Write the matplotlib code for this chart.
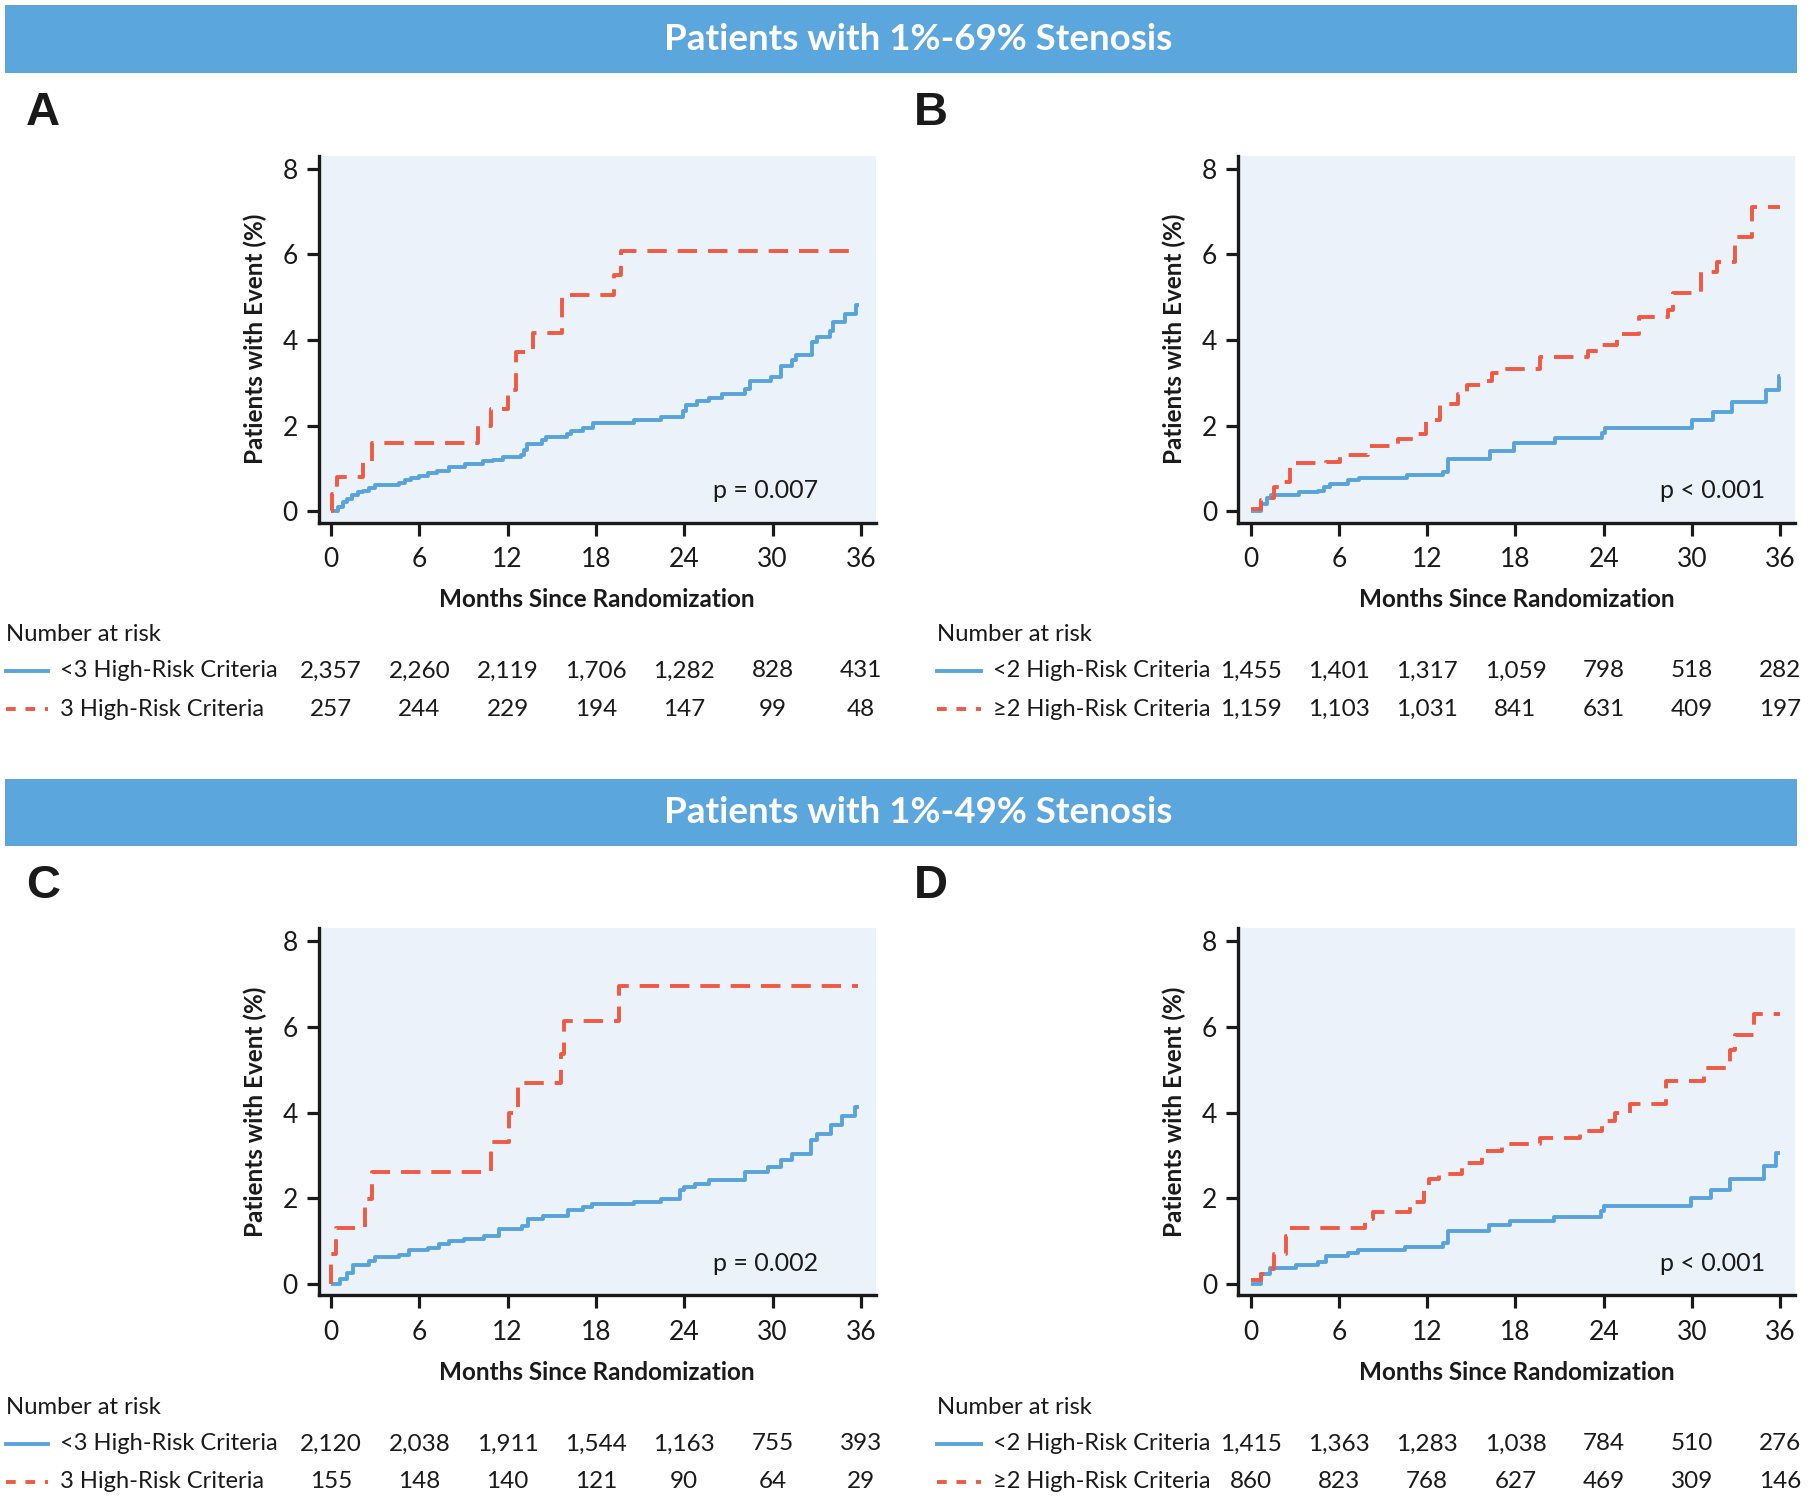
import numpy as np
import matplotlib
matplotlib.use("Agg")
import matplotlib.pyplot as plt
from matplotlib.patches import Rectangle
from matplotlib.lines import Line2D
from matplotlib.transforms import blended_transform_factory

plt.rcParams['font.family'] = ['Lato', 'DejaVu Sans']

# ---------------- data ----------------
months_ticks = [0, 6, 12, 18, 24, 30, 36]

# Panel A (1%-69% stenosis, <3 vs 3 criteria)
A_lo_t = [0, 0.5, 0.8, 1.1, 1.4, 1.8, 2.2, 2.6, 3.0, 4.6, 5.0, 5.4, 6.0, 6.6, 7.2, 8.0, 9.1, 10.3, 11.0,
          11.7, 12.9, 13.1, 13.3, 14.3, 14.6, 16.0, 16.3, 17.1, 17.8, 20.6, 22.4, 23.9, 24.1, 24.9, 25.7,
          26.6, 28.1, 28.5, 29.9, 30.6, 31.3, 31.6, 32.7, 33.0, 33.9, 34.1, 34.9, 35.7, 35.9]
A_lo_y = [0, 0.10, 0.20, 0.28, 0.38, 0.44, 0.48, 0.55, 0.62, 0.66, 0.72, 0.78, 0.82, 0.88, 0.93, 1.02, 1.10, 1.16, 1.20,
          1.26, 1.30, 1.42, 1.57, 1.65, 1.74, 1.80, 1.87, 1.95, 2.06, 2.12, 2.20, 2.35, 2.49, 2.57, 2.65,
          2.73, 2.86, 3.04, 3.13, 3.38, 3.52, 3.64, 3.95, 4.08, 4.22, 4.42, 4.61, 4.81, 4.81]
A_hi_t = [0, 0.05, 0.4, 2.2, 2.8, 10.0, 10.9, 12.0, 12.6, 13.7, 15.7, 19.2, 19.7, 35.8]
A_hi_y = [0, 0.39, 0.80, 1.18, 1.59, 2.00, 2.39, 2.83, 3.71, 4.16, 5.06, 5.53, 6.07, 6.07]

# Panel B (1%-69% stenosis, <2 vs >=2 criteria)
B_lo_t = [0, 0.7, 1.1, 1.4, 3.3, 4.6, 5.0, 5.4, 6.6, 7.4, 10.6, 13.1, 13.4, 16.3, 17.9, 20.7, 23.9, 24.1,
          30.0, 31.4, 32.7, 35.0, 35.9, 36.0]
B_lo_y = [0, 0.17, 0.31, 0.38, 0.44, 0.48, 0.56, 0.64, 0.72, 0.77, 0.85, 0.91, 1.22, 1.40, 1.59, 1.71, 1.82, 1.95,
          2.12, 2.31, 2.55, 2.83, 3.15, 3.15]
B_hi_t = [0, 0.7, 1.1, 1.6, 2.2, 2.7, 5.1, 6.1, 8.0, 10.0, 11.1, 11.9, 12.9, 14.1, 14.7, 15.7, 16.4, 17.1, 19.7,
          22.9, 23.9, 24.9, 26.4, 28.4, 28.7, 30.6, 31.7, 32.9, 34.1, 36.0]
B_hi_y = [0.05, 0.25, 0.31, 0.56, 0.68, 1.12, 1.14, 1.30, 1.53, 1.69, 1.81, 2.12, 2.51, 2.74, 2.94, 3.05, 3.23, 3.33,
          3.60, 3.74, 3.89, 4.14, 4.53, 4.69, 5.09, 5.58, 5.82, 6.40, 7.10, 7.10]

# Panel C (1%-49% stenosis, <3 vs 3 criteria)
C_lo_t = [0, 0.6, 1.1, 1.5, 2.6, 3.0, 4.6, 5.3, 6.6, 7.3, 8.0, 9.0, 10.4, 11.4, 13.0, 13.4, 14.4, 16.1, 17.1,
          17.7, 20.6, 22.4, 23.7, 24.0, 24.7, 25.7, 28.1, 29.7, 30.6, 31.3, 32.6, 33.0, 34.0, 34.7, 35.6, 35.9]
C_lo_y = [0, 0.10, 0.26, 0.44, 0.53, 0.62, 0.67, 0.78, 0.84, 0.92, 1.00, 1.04, 1.12, 1.27, 1.35, 1.50, 1.58, 1.72,
          1.79, 1.86, 1.92, 1.97, 2.18, 2.25, 2.32, 2.42, 2.61, 2.73, 2.89, 3.03, 3.35, 3.51, 3.71, 3.92, 4.12, 4.12]
C_hi_t = [0, 0.02, 0.3, 2.3, 2.8, 10.9, 12.1, 12.7, 15.6, 15.8, 19.6, 35.8]
C_hi_y = [0, 0.69, 1.31, 1.97, 2.62, 3.30, 3.98, 4.68, 5.36, 6.13, 6.96, 6.96]

# Panel D (1%-49% stenosis, <2 vs >=2 criteria)
D_lo_t = [0, 0.7, 1.3, 3.1, 4.6, 5.1, 6.6, 7.3, 10.5, 13.1, 13.4, 16.2, 17.6, 20.6, 23.8, 24.0, 29.9, 31.3,
          32.6, 34.9, 35.7, 36.0]
D_lo_y = [0, 0.22, 0.37, 0.44, 0.51, 0.65, 0.72, 0.78, 0.86, 0.96, 1.22, 1.37, 1.47, 1.56, 1.70, 1.82, 2.01, 2.20,
          2.44, 2.75, 3.06, 3.06]
D_hi_t = [0, 0.7, 1.3, 1.6, 2.4, 2.7, 7.8, 8.3, 10.8, 11.8, 12.1, 12.8, 14.4, 15.7, 17.1, 19.7, 22.4, 23.9, 24.8,
          25.8, 28.2, 30.8, 32.6, 32.9, 34.2, 36.0]
D_hi_y = [0.08, 0.23, 0.34, 0.69, 1.12, 1.29, 1.50, 1.68, 1.92, 2.26, 2.44, 2.56, 2.83, 3.09, 3.26, 3.41, 3.57, 3.80,
          3.98, 4.21, 4.74, 5.05, 5.47, 5.82, 6.30, 6.30]

# Numbers at risk
A_lo_risk = [2357, 2260, 2119, 1706, 1282, 828, 431]
A_hi_risk = [257, 244, 229, 194, 147, 99, 48]
B_lo_risk = [1455, 1401, 1317, 1059, 798, 518, 282]
B_hi_risk = [1159, 1103, 1031, 841, 631, 409, 197]
C_lo_risk = [2120, 2038, 1911, 1544, 1163, 755, 393]
C_hi_risk = [155, 148, 140, 121, 90, 64, 29]
D_lo_risk = [1415, 1363, 1283, 1038, 784, 510, 276]
D_hi_risk = [860, 823, 768, 627, 469, 309, 146]

labels_3 = ["<3 High-Risk Criteria", "3 High-Risk Criteria"]
labels_2 = ["<2 High-Risk Criteria", "\u22652 High-Risk Criteria"]
p_values = ["p = 0.007", "p < 0.001", "p = 0.002", "p < 0.001"]
panel_letters = ["A", "B", "C", "D"]
banner_titles = ["Patients with 1%-69% Stenosis", "Patients with 1%-49% Stenosis"]

# ---------------- style ----------------
W, H = 1810, 1501
BLUE = "#58A3DB"
RED = "#EF5A44"
BANNER = "#5BA6DD"
BG = "#ECF2FA"
INK = "#1a1a1a"
LW = 2.8

fig = plt.figure(figsize=(W / 100, H / 100), dpi=100)


def fx(px):
    return px / W


def fy(py):
    return 1 - py / H


# banners
for title, (top, bot) in zip(banner_titles, [(5, 73), (779, 846)]):
    fig.add_artist(Rectangle((fx(5), fy(bot)), fx(1797) - fx(5), fy(top) - fy(bot),
                             transform=fig.transFigure, facecolor=BANNER, edgecolor="none"))
    fig.text(fx(918), fy((top + bot) / 2), title, color="white", fontsize=26.5, fontweight="bold",
             ha="center", va="center")

XL = (-0.857, 37.0)
YL = (-0.27, 8.31)
ax_w = 557
ax_h = 367
panels = [
    dict(left=318.5, bottom=522.6, lo=(A_lo_t, A_lo_y), hi=(A_hi_t, A_hi_y), risk=(A_lo_risk, A_hi_risk),
         labels=labels_3, ptx=29.55, letter_x=43, letter_y=113, tab_y=(634, 671, 709), line_x=(6, 48), lab_x=60),
    dict(left=1238, bottom=522.6, lo=(B_lo_t, B_lo_y), hi=(B_hi_t, B_hi_y), risk=(B_lo_risk, B_hi_risk),
         labels=labels_2, ptx=31.4, letter_x=931, letter_y=113, tab_y=(634, 671, 709), line_x=(937, 981), lab_x=993),
    dict(left=318.5, bottom=1295.2, lo=(C_lo_t, C_lo_y), hi=(C_hi_t, C_hi_y), risk=(C_lo_risk, C_hi_risk),
         labels=labels_3, ptx=29.55, letter_x=43, letter_y=886, tab_y=(1407, 1444, 1482), line_x=(6, 48), lab_x=60),
    dict(left=1238, bottom=1295.2, lo=(D_lo_t, D_lo_y), hi=(D_hi_t, D_hi_y), risk=(D_lo_risk, D_hi_risk),
         labels=labels_2, ptx=31.4, letter_x=931, letter_y=886, tab_y=(1407, 1444, 1482), line_x=(937, 981), lab_x=993),
]

for i, p in enumerate(panels):
    ax = fig.add_axes([fx(p["left"]), fy(p["bottom"]), ax_w / W, ax_h / H])
    ax.set_facecolor(BG)
    ax.set_xlim(*XL)
    ax.set_ylim(*YL)
    for s in ["top", "right"]:
        ax.spines[s].set_visible(False)
    for s in ["left", "bottom"]:
        ax.spines[s].set_linewidth(2.4)
        ax.spines[s].set_color(INK)
    ax.set_xticks(months_ticks)
    ax.set_yticks([0, 2, 4, 6, 8])
    ax.tick_params(axis="both", direction="out", length=9, width=2.3, color=INK,
                   labelsize=19, labelcolor=INK)
    ax.tick_params(axis="x", pad=8.5)
    ax.tick_params(axis="y", pad=6)
    ax.set_xlabel("Months Since Randomization", fontsize=17.5, fontweight="bold", color=INK)
    ax.xaxis.set_label_coords(0.5, -0.178)
    ax.set_ylabel("Patients with Event (%)", fontsize=17.5, fontweight="bold", color=INK)
    ax.yaxis.set_label_coords(-0.093, 0.5)

    lt, ly = p["lo"]
    ht, hy = p["hi"]
    ax.step(lt, ly, where="post", color=BLUE, lw=LW, solid_capstyle="butt", zorder=3)
    ax.step(ht, hy, where="post", color=RED, lw=LW, dashes=(5.0, 2.8), zorder=3)

    ax.text(p["ptx"], 0.48, p_values[i], fontsize=18, ha="center", va="center", color=INK)

    fig.text(fx(p["letter_x"]), fy(p["letter_y"]), panel_letters[i], fontsize=34, fontweight="bold",
             ha="center", va="center", color=INK, family=["Liberation Sans", "DejaVu Sans"])

    # number at risk table
    ty0, ty1, ty2 = p["tab_y"]
    fig.text(fx(p["line_x"][0]), fy(ty0), "Number at risk", fontsize=17.2, ha="left", va="center",
             color=INK)
    x0, x1 = p["line_x"]
    fig.add_artist(Line2D([fx(x0), fx(x1)], [fy(ty1), fy(ty1)], transform=fig.transFigure,
                          color=BLUE, lw=LW))
    fig.add_artist(Line2D([fx(x0), fx(x1)], [fy(ty2), fy(ty2)], transform=fig.transFigure,
                          color=RED, lw=LW, dashes=(2.5, 2.5)))
    fig.text(fx(p["lab_x"]), fy(ty1), p["labels"][0], fontsize=17, ha="left", va="center", color=INK)
    fig.text(fx(p["lab_x"]), fy(ty2), p["labels"][1], fontsize=17, ha="left", va="center", color=INK)
    trans = blended_transform_factory(ax.transData, fig.transFigure)
    for m, n1, n2 in zip(months_ticks, p["risk"][0], p["risk"][1]):
        ax.text(m, fy(ty1), f"{n1:,}", transform=trans, fontsize=17.5, ha="center", va="center",
                color=INK, clip_on=False)
        ax.text(m, fy(ty2), f"{n2:,}", transform=trans, fontsize=17.5, ha="center", va="center",
                color=INK, clip_on=False)

fig.savefig("out.png", dpi=100)
